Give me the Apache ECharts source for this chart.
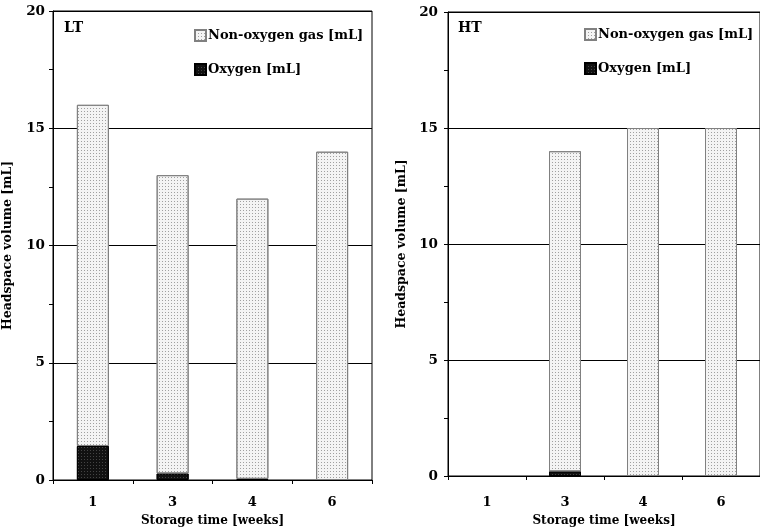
<!DOCTYPE html>
<html><head><meta charset="utf-8">
<script src="https://cdn.jsdelivr.net/npm/echarts@6/dist/echarts.min.js"></script>
<style>html,body{margin:0;padding:0;background:#fff}#c{width:760px;height:532px}</style>
</head><body><div id="c"></div>
<script>
const categories = ['1', '3', '4', '6'];
const ltOxygen = [1.45, 0.28, 0.05, null];
const ltNonOxygen = [14.55, 12.72, 11.95, 14];
const htOxygen = [null, 0.2, null, null];
const htNonOxygen = [null, 13.8, 15, 15];
const yTicks = [0, 5, 10, 15, 20];
const panelLabels = ['LT', 'HT'];
const nameNon = 'Non-oxygen gas [mL]';
const nameOx = 'Oxygen [mL]';

const FONT = 'DejaVu Serif';
const txt = {fontFamily: FONT, fontWeight: 'bold', color: '#000'};
const chart = echarts.init(document.getElementById('c'), null, {renderer: 'canvas'});

const nonStyle = {
  color: '#f4f4f4', borderColor: '#808080', borderWidth: 1,
  decal: {symbol: 'rect', symbolSize: 1, color: '#a0a0a0', dashArrayX: [1, 2], dashArrayY: [1, 2], rotation: 0}
};
const oxStyle = {
  color: '#111', borderColor: '#000', borderWidth: 1,
  decal: {symbol: 'rect', symbolSize: 1, color: '#444', dashArrayX: [1, 2], dashArrayY: [1, 2], rotation: 0}
};

function xAxis(gi, margin, gap) {
  return {
    type: 'category', gridIndex: gi, data: categories,
    axisLine: {lineStyle: {color: '#000', width: 1}},
    axisTick: {show: true, inside: false, length: 4, alignWithLabel: false, lineStyle: {color: '#000'}},
    axisLabel: Object.assign({fontSize: 13, margin: margin}, txt),
    name: 'Storage time [weeks]', nameLocation: 'middle', nameGap: gap,
    nameTextStyle: Object.assign({fontSize: 12}, txt)
  };
}
function yAxis(gi, margin, gap) {
  return {
    type: 'value', gridIndex: gi, min: yTicks[0], max: yTicks[yTicks.length - 1], interval: 5,
    axisLine: {show: true, lineStyle: {color: '#000', width: 1}},
    axisTick: {show: true, length: 4, lineStyle: {color: '#000'}},
    minorTick: {show: true, splitNumber: 2, length: 4, lineStyle: {color: '#000'}},
    splitLine: {show: true, lineStyle: {color: '#000', width: 1}},
    axisLabel: Object.assign({fontSize: 13.5, margin: margin}, txt),
    name: 'Headspace volume [mL]', nameLocation: 'middle', nameGap: gap, nameRotate: 90,
    nameTextStyle: Object.assign({fontSize: 12.5}, txt)
  };
}
function legend(left, top) {
  return {
    data: [nameNon, nameOx], orient: 'vertical', left: left, top: top,
    itemWidth: 11, itemHeight: 11, itemGap: 21, icon: 'rect',
    textStyle: Object.assign({fontSize: 13, padding: [0, 0, 0, -3]}, txt),
    selectedMode: false
  };
}

chart.setOption({
  animation: false,
  grid: [
    {left: 52, right: 388, top: 11, bottom: 47, show: true, borderColor: '#000', borderWidth: 1, backgroundColor: 'transparent'},
    {left: 448, right: -5, top: 12, bottom: 51, show: true, borderColor: '#000', borderWidth: 1, backgroundColor: 'transparent'}
  ],
  legend: [legend(189, 24), legend(579, 23)],
  xAxis: [xAxis(0, 16, 35), xAxis(1, 20, 39)],
  yAxis: [yAxis(0, 8, 39), yAxis(1, 10, 40)],
  graphic: [
    {type: 'text', left: 64, top: 21, style: {text: panelLabels[0], font: 'bold 14px "' + FONT + '"', fill: '#000'}},
    {type: 'text', left: 458, top: 21, style: {text: panelLabels[1], font: 'bold 14px "' + FONT + '"', fill: '#000'}}
  ],
  series: [
    {name: nameOx, type: 'bar', stack: 'lt', xAxisIndex: 0, yAxisIndex: 0, data: ltOxygen, barWidth: 32, itemStyle: oxStyle},
    {name: nameNon, type: 'bar', stack: 'lt', xAxisIndex: 0, yAxisIndex: 0, data: ltNonOxygen, barWidth: 32, itemStyle: nonStyle},
    {name: nameOx, type: 'bar', stack: 'ht', xAxisIndex: 1, yAxisIndex: 1, data: htOxygen, barWidth: 32, itemStyle: oxStyle},
    {name: nameNon, type: 'bar', stack: 'ht', xAxisIndex: 1, yAxisIndex: 1, data: htNonOxygen, barWidth: 32, itemStyle: nonStyle}
  ]
});
</script></body></html>
